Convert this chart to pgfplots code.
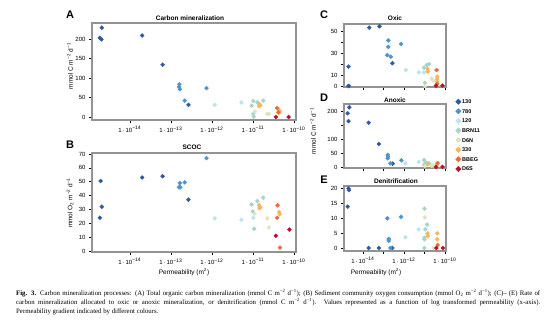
\documentclass[border=0pt]{standalone}
\usepackage{pgfplots}
\pgfplotsset{compat=1.18}
\usepackage{fontspec}
\setmainfont{Liberation Sans}
\newfontfamily\capfont{Liberation Serif}
\definecolor{c130}{HTML}{2E5AA0}
\definecolor{c780}{HTML}{4E94C8}
\definecolor{c120}{HTML}{BDE3EE}
\definecolor{cBRN}{HTML}{A6D4C5}
\definecolor{cD6N}{HTML}{DDE5C0}
\definecolor{c330}{HTML}{FBB45C}
\definecolor{cBBEG}{HTML}{EE6A3A}
\definecolor{cD6S}{HTML}{B8102E}
\pgfdeclareplotmark{rdiamond}{%
  \pgfpathmoveto{\pgfqpoint{0pt}{\pgfplotmarksize}}%
  \pgfpathlineto{\pgfqpoint{\pgfplotmarksize}{0pt}}%
  \pgfpathlineto{\pgfqpoint{0pt}{-\pgfplotmarksize}}%
  \pgfpathlineto{\pgfqpoint{-\pgfplotmarksize}{0pt}}%
  \pgfpathclose\pgfusepathqfillstroke}
\pgfplotsset{
  panel/.style={
    scale only axis,
    anchor=south west,
    axis line style={draw=gray!85, line width=1.1pt},
    tick align=outside,
    major tick length=3pt,
    every tick/.style={black, line width=0.5pt},
    tick pos=left,
    tick label style={font=\fontsize{6}{7}\selectfont},
    /pgf/number format/assume math mode=true,
    xmin=-14.92, xmax=-9.95,
    xtick={-14,-13,-12,-11,-10},
    only marks,
    every axis plot/.append style={mark=rdiamond, mark size=2pt},
    clip=false,
  },
}
\newcommand{\xl}[1]{1\,·\,10\textsuperscript{−#1}}
\begin{document}
\begin{tikzpicture}
\path[use as bounding box] (0pt,0pt) rectangle (554pt,321pt);

% ---------- A ----------
\begin{axis}[panel, at={(92pt,201pt)}, width=204pt, height=97pt,
  ymin=-7.7, ymax=241, ytick={0,50,100,150,200},
  xticklabels={\xl{14},\xl{13},\xl{12},\xl{11},\xl{10}}]
\addplot[c130] coordinates {(-14.68,229) (-14.73,203) (-14.69,199) (-13.70,209) (-13.20,134) (-12.57,31)};
\addplot[c780] coordinates {(-12.79,84) (-12.80,77) (-12.78,71) (-12.66,42) (-12.13,74)};
\addplot[c120] coordinates {(-11.93,31) (-11.28,37)};
\addplot[cBRN] coordinates {(-11.03,29) (-10.99,41) (-10.99,8) (-10.98,1) (-10.89,38) (-10.75,42)};
\addplot[cD6N] coordinates {(-10.95,14) (-10.65,8) (-10.60,8)};
\addplot[c330] coordinates {(-10.84,33) (-10.85,28) (-10.82,30) (-10.36,18) (-10.35,14) (-10.37,10)};
\addplot[cBBEG] coordinates {(-10.41,23) (-10.38,12)};
\addplot[cD6S] coordinates {(-10.44,0) (-10.13,0)};
\end{axis}

% ---------- B ----------
\begin{axis}[panel, at={(92pt,69pt)}, width=204pt, height=99pt,
  ymin=-0.7, ymax=70.7, ytick={0,10,...,70},
  xticklabels={\xl{14},\xl{13},\xl{12},\xl{11},\xl{10}}]
\addplot[c130] coordinates {(-14.71,50.5) (-14.68,32) (-14.73,24) (-13.70,53) (-13.20,54) (-12.57,37)};
\addplot[c780] coordinates {(-12.80,46) (-12.77,46) (-12.78,49) (-12.66,49.5) (-12.13,67)};
\addplot[c120] coordinates {(-11.93,23.5) (-11.28,22.5) (-10.99,24)};
\addplot[cBRN] coordinates {(-11.03,33.5) (-11.00,28.5) (-10.97,16) (-10.89,36) (-10.75,38.5)};
\addplot[cD6N] coordinates {(-10.96,27) (-10.65,23.5) (-10.61,17)};
\addplot[c330] coordinates {(-10.85,33) (-10.84,31) (-10.82,31.5) (-10.36,28) (-10.35,26.5)};
\addplot[cBBEG] coordinates {(-10.40,33) (-10.41,24) (-10.34,2.5)};
\addplot[cD6S] coordinates {(-10.44,11) (-10.11,15.5)};
\end{axis}

% ---------- C ----------
\begin{axis}[panel, at={(344pt,234pt)}, width=102pt, height=63pt,
  ymin=-0.9, ymax=57.1, ytick={0,10,...,50}, yticklabels={0,10,,30,,50},
  xticklabels={}]
\addplot[c130] coordinates {(-14.70,17.8) (-14.71,0) (-14.68,0) (-13.69,53.7) (-13.19,55) (-12.56,21)};
\addplot[c780] coordinates {(-12.76,42) (-12.76,36) (-12.81,28.5) (-12.64,27) (-12.14,38.7)};
\addplot[c120] coordinates {(-11.91,14.7) (-11.27,12.6) (-11.02,12.6)};
\addplot[cBRN] coordinates {(-11.02,16.9) (-10.89,19.3) (-10.77,20.3) (-10.98,3)};
\addplot[cD6N] coordinates {(-10.98,0) (-10.65,7) (-10.57,5)};
\addplot[c330] coordinates {(-10.85,15.7) (-10.84,13.2) (-10.38,8.6) (-10.38,6.2) (-10.38,4)};
\addplot[cBBEG] coordinates {(-10.41,14.7) (-10.38,2)};
\addplot[cD6S] coordinates {(-10.44,0.3) (-10.12,0.3)};
\end{axis}

% ---------- D ----------
\begin{axis}[panel, at={(344pt,153pt)}, width=102pt, height=64pt,
  ymin=-3.6, ymax=225, ytick={0,50,100,150,200}, yticklabels={0,50,100,,200},
  xticklabels={},
  legend style={at={(1.09,1.106)}, anchor=north west, draw=none, fill=none,
    font=\fontsize{5.5}{6}\selectfont\bfseries, inner sep=0pt, row sep=1pt,
    nodes={inner sep=0.8pt, text height=5.5pt, text depth=1.5pt}, cells={anchor=west}},
  legend image code/.code={\path[draw=none, fill=none] (0pt,-2pt) rectangle (6pt,2pt); \draw[#1, mark=rdiamond, mark size=2.7pt] plot coordinates {(3pt,0pt)};}]
\addplot[c130] coordinates {(-14.66,213) (-14.74,192) (-14.70,164) (-13.72,158) (-13.22,82) (-12.55,12)};
\addplot[c780] coordinates {(-12.79,43) (-12.78,37) (-12.79,31) (-12.66,13) (-12.12,24)};
\addplot[c120] coordinates {(-11.93,13) (-11.28,18) (-11.02,10)};
\addplot[cBRN] coordinates {(-11.02,25) (-10.95,12) (-10.89,15) (-10.77,13) (-11.0,5)};
\addplot[cD6N] coordinates {(-10.97,4) (-10.65,4) (-10.57,6)};
\addplot[c330] coordinates {(-10.84,10) (-10.38,8) (-10.37,13)};
\addplot[cBBEG] coordinates {(-10.36,14)};
\addplot[cD6S] coordinates {(-10.44,0.5) (-10.12,0.5)};
\legend{130,780,120,BRN11,D6N,330,BBEG,D6S}
\end{axis}

% ---------- E ----------
\begin{axis}[panel, at={(344pt,70pt)}, width=102pt, height=65pt,
  ymin=-1, ymax=20.67, ytick={0,5,...,20},
  xticklabels={\xl{14},,\xl{12},,\xl{10}}]
\addplot[c130] coordinates {(-14.70,19.9) (-14.68,19.3) (-14.74,13.8) (-13.72,0) (-13.22,0) (-12.56,0)};
\addplot[c780] coordinates {(-12.81,9.9) (-12.74,3.0) (-12.74,2.4) (-12.66,0) (-12.14,10.4)};
\addplot[c120] coordinates {(-11.93,3.6) (-11.28,6.2)};
\addplot[cBRN] coordinates {(-11.00,13.1) (-10.96,6.2) (-10.87,7.8) (-11.00,3.4) (-11.00,2.9) (-11.0,0)};
\addplot[cD6N] coordinates {(-10.98,10.2) (-10.55,0)};
\addplot[c330] coordinates {(-10.85,4.9) (-10.83,4.0) (-10.37,4.9) (-10.38,2.9)};
\addplot[cBBEG] coordinates {(-10.36,1.0)};
\addplot[cD6S] coordinates {(-10.42,0) (-10.10,0)};
\end{axis}

% ---------- titles, labels ----------
\begin{scope}[x=1pt, y=1pt, every node/.style={inner sep=0pt}]
\node[font=\fontsize{6.5}{7}\selectfont\bfseries] at (190,303) {Carbon mineralization};
\node[font=\fontsize{6.5}{7}\selectfont\bfseries] at (192,174) {SCOC};
\node[font=\fontsize{6.5}{7}\selectfont\bfseries] at (395,303) {Oxic};
\node[font=\fontsize{6.5}{7}\selectfont\bfseries] at (395,221) {Anoxic};
\node[font=\fontsize{6.5}{7}\selectfont\bfseries] at (396,140) {Denitrification};
\node[font=\fontsize{11}{12}\selectfont\bfseries] at (70,306) {A};
\node[font=\fontsize{11}{12}\selectfont\bfseries] at (70,176) {B};
\node[font=\fontsize{11}{12}\selectfont\bfseries] at (324,306) {C};
\node[font=\fontsize{11}{12}\selectfont\bfseries] at (324,223) {D};
\node[font=\fontsize{11}{12}\selectfont\bfseries] at (324,141) {E};
\node[rotate=90, font=\fontsize{6.5}{7}\selectfont] at (70,255) {mmol C m\textsuperscript{−2} d\textsuperscript{−1}};
\node[rotate=90, font=\fontsize{6.5}{7}\selectfont] at (70,118) {mmol O\textsubscript{2} m\textsuperscript{−2} d\textsuperscript{−1}};
\node[rotate=90, font=\fontsize{6.5}{7}\selectfont] at (313,190) {mmol C m\textsuperscript{−2} d\textsuperscript{−1}};
\node[font=\fontsize{6.5}{7}\selectfont] at (184,49) {Permeability (m\textsuperscript{2})};
\node[font=\fontsize{6.5}{7}\selectfont] at (376,49) {Permeability (m\textsuperscript{2})};
\node[anchor=north west, text width=524pt, align=justify, font=\capfont\fontsize{6.8}{9}\selectfont] at (16,32)
{\textbf{Fig. 3.} Carbon mineralization processes: (A) Total organic carbon mineralization (mmol C m\textsuperscript{−2} d\textsuperscript{−1}); (B) Sediment community oxygen consumption (mmol O\textsubscript{2} m\textsuperscript{−2} d\textsuperscript{−1}); (C)– (E) Rate of\linebreak carbon mineralization allocated to oxic or anoxic mineralization, or denitrification (mmol C m\textsuperscript{−2} d\textsuperscript{−1}). Values represented as a function of log transformed permeability (x-axis).\linebreak Permeability gradient indicated by different colours.};
\end{scope}
\end{tikzpicture}
\end{document}
